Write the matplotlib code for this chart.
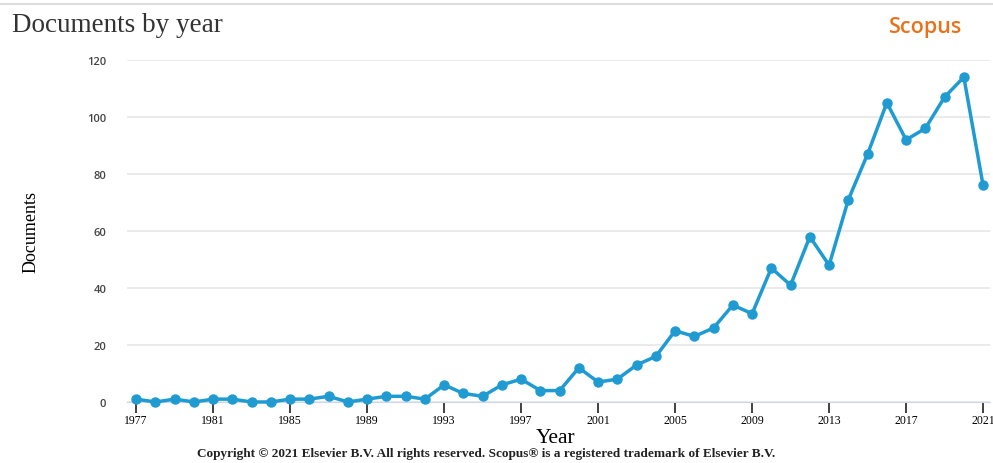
import matplotlib
matplotlib.use("Agg")
import matplotlib.pyplot as plt

# data
years = list(range(1977, 2022))
docs = [1, 0, 1, 0, 1, 1, 0, 0, 1, 1, 2, 0, 1, 2, 2, 1, 6, 3, 2, 6, 8, 4, 4, 12,
        7, 8, 13, 16, 25, 23, 26, 34, 31, 47, 41, 58, 48, 71, 87, 105, 92, 96,
        107, 114, 76]
xticks = list(range(1977, 2022, 4))
yticks = [0, 20, 40, 60, 80, 100, 120]

fig = plt.figure(figsize=(9.93, 4.64), dpi=100)
ax = fig.add_axes([0.128, 0.1315, 0.869, 0.737])

ax.plot(years, docs, color="#1f9bd1", lw=2.5, marker="o", ms=6.5, clip_on=False, zorder=3)

ax.set_xlim(1976.53, 2021.36)
ax.set_ylim(0, 120)
ax.set_yticks(yticks)
ax.set_xticks(xticks)
ax.grid(axis="y", color="#e6e6e6", lw=1.2)
ax.set_axisbelow(True)
for s in ["top", "right", "left"]:
    ax.spines[s].set_visible(False)
ax.spines["bottom"].set_color("#ccd6eb")
ax.tick_params(axis="y", length=0, pad=15, labelsize=8, labelcolor="#444444")
ax.tick_params(axis="x", length=8, width=1.3, color="#333333", pad=1, labelsize=8.5)
for lbl in ax.get_xticklabels():
    lbl.set_family("Liberation Serif")
for lbl in ax.get_yticklabels():
    lbl.set_family("Open Sans")
    lbl.set_weight("semibold")

ax.set_ylabel("Documents", family="Liberation Serif", fontsize=13, labelpad=34)
fig.text(0.56, 0.055, "Year", family="Liberation Serif", fontsize=15.5, ha="center", va="center")
fig.text(0.49, 0.022, "Copyright \u00a9 2021 Elsevier B.V. All rights reserved. Scopus\u00ae is a registered trademark of Elsevier B.V.",
         family="Liberation Serif", fontsize=9.5, weight="bold", ha="center", va="center", color="#222222")

fig.text(0.012, 0.945, "Documents by year", family="Liberation Serif", fontsize=19.5, color="#333333", va="center")
fig.text(0.969, 0.94, "Scopus", family="Open Sans", fontsize=15.5, weight="semibold", color="#e9711c", ha="right", va="center")
fig.add_artist(plt.Line2D([0.0, 1.0], [0.99, 0.99], color="#dddddd", lw=1.5))

fig.savefig("out.png", dpi=100)
